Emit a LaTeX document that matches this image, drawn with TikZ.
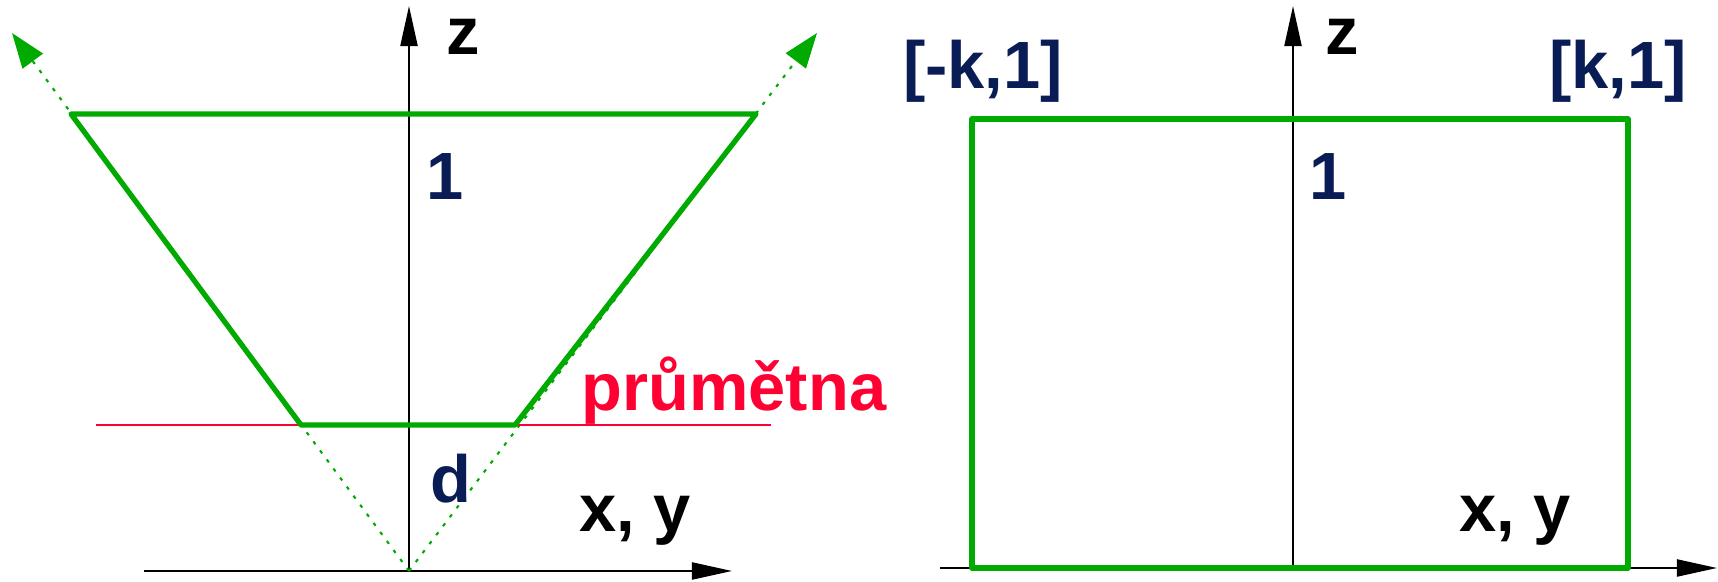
\documentclass[tikz,border=0pt]{standalone}
\usepackage{fontspec}
\setmainfont{Liberation Sans}
\usetikzlibrary{arrows.meta}
\definecolor{frgreen}{RGB}{0,170,0}
\definecolor{lblnavy}{RGB}{10,28,85}
\definecolor{planered}{RGB}{255,0,51}
\begin{document}
\begin{tikzpicture}[x=0.01cm, y=0.01cm, font=\fontsize{19}{23}\selectfont\bfseries,
  axis/.style={line width=0.6pt, -{Triangle[length=0.4cm,width=0.17cm]}},
  frustum/.style={draw=frgreen, line width=1.5pt, line join=round},
  ray/.style={frgreen, line width=0.6pt, dash pattern=on 1pt off 2.2pt, -{Triangle[length=0.35cm,width=0.25cm]}},
  lbl/.style={inner sep=0pt, text=lblnavy},
  axlbl/.style={inner sep=0pt}]
  \useasboundingbox (0,0) rectangle (1718,582);
  % left: frustum
  \coordinate (o1) at (409,11);
  \coordinate (z1) at (409,576);
  \coordinate (xa1) at (144,11);
  \coordinate (xb1) at (732,11);
  \coordinate (tl) at (71,468);
  \coordinate (tr) at (756,468);
  \coordinate (bl) at (301,157);
  \coordinate (br) at (515,157);
  \coordinate (pl) at (96,157);
  \coordinate (pr) at (771,157);
  \coordinate (rl) at (12,549);
  \coordinate (rr) at (817,549);
  \draw[axis] (xa1) -- (xb1);
  \draw[axis] (o1) -- (z1);
  \draw[ray] (o1) -- (rl);
  \draw[ray] (o1) -- (rr);
  \draw[planered, line width=0.6pt] (pl) -- (pr);
  \draw[frustum] (tl) -- (tr) -- (br) -- (bl) -- cycle;
  \node[axlbl] (zlab1) at (463,545) {z};
  \node[axlbl] (xylab1) at (635,61) {x, y};
  \node[lbl] (one1) at (445,405) {1};
  \node[lbl] (dlab) at (451,103) {d};
  \node[inner sep=0pt, text=planered] (plane) at (734,191) {průmětna};
  % right: normalised
  \coordinate (o2) at (1293,14);
  \coordinate (z2) at (1293,576);
  \coordinate (xa2) at (940,14);
  \coordinate (xb2) at (1717,14);
  \coordinate (ql) at (972,14);
  \coordinate (qr) at (1628,463);
  \draw[axis] (xa2) -- (xb2);
  \draw[axis] (o2) -- (z2);
  \draw[frustum] (ql) rectangle (qr);
  \node[axlbl] (zlab2) at (1342,545) {z};
  \node[axlbl] (xylab2) at (1515,61) {x, y};
  \node[lbl] (one2) at (1328,405) {1};
  \node[lbl] (cornl) at (983,511) {[-k,1]};
  \node[lbl] (cornr) at (1618,511) {[k,1]};
\end{tikzpicture}
\end{document}
